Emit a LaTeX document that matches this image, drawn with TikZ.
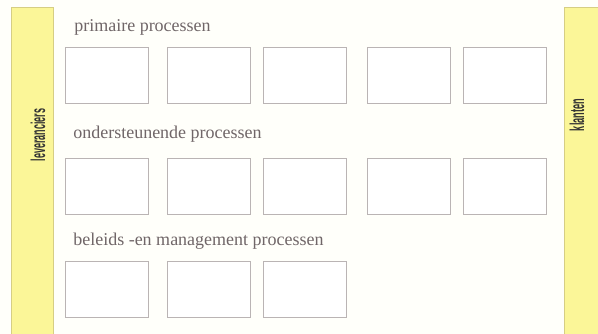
\documentclass[tikz,border=0pt]{standalone}
\usepackage{fontspec}
\setmainfont{Liberation Serif}
\setsansfont{Liberation Sans}
\usetikzlibrary{positioning}
\definecolor{baryellow}{RGB}{251,246,152}
\definecolor{baredge}{RGB}{214,206,132}
\definecolor{boxedge}{RGB}{186,180,180}
\definecolor{labelgray}{RGB}{112,102,104}
\tikzset{
    procbox/.style={draw=boxedge, line width=0.6pt, fill=white, anchor=north west,
        minimum width=62.5pt, minimum height=42pt, inner sep=0pt},
    bar/.style={draw=baredge, line width=0.5pt, fill=baryellow, anchor=north west, inner sep=0pt},
    barlabel/.style={rotate=90, font=\sffamily\bfseries\fontsize{15}{15}\selectfont, text=black!80},
    rowlabel/.style={anchor=west, font=\fontsize{13.5}{14}\selectfont, text=labelgray, inner sep=0pt},
}
\begin{document}
\begin{tikzpicture}[x=0.75pt, y=-0.75pt]
    \useasboundingbox (0,0) rectangle (598,334);
    \fill[white!98!yellow] (0,0) rectangle (598,334);

    % suppliers and customers
    \node[bar, minimum width=31.5pt, minimum height=245.5pt] (levbar) at (11,7) {};
    \node[bar, minimum width=26pt, minimum height=245.5pt]   (klabar) at (564,7) {};
    \node[barlabel] (lev) at (38,135) {\scalebox{0.45}[1]{leveranciers}};
    \node[barlabel] (kla) at (577,115) {\scalebox{0.46}[1]{klanten}};

    % primary
    \node[rowlabel] (prim) at (74,27) {primaire processen};
    \node[procbox] (p1) at (65,47)  {};
    \node[procbox] (p2) at (167,47) {};
    \node[procbox] (p3) at (263,47) {};
    \node[procbox] (p4) at (367,47) {};
    \node[procbox] (p5) at (463,47) {};

    % support
    \node[rowlabel] (onder) at (73,134) {ondersteunende processen};
    \node[procbox] (o1) at (65,158)  {};
    \node[procbox] (o2) at (167,158) {};
    \node[procbox] (o3) at (263,158) {};
    \node[procbox] (o4) at (367,158) {};
    \node[procbox] (o5) at (463,158) {};

    % policy and management
    \node[rowlabel] (beleid) at (73,241) {beleids -en management processen};
    \node[procbox] (b1) at (65,261)  {};
    \node[procbox] (b2) at (167,261) {};
    \node[procbox] (b3) at (263,261) {};
\end{tikzpicture}
\end{document}
